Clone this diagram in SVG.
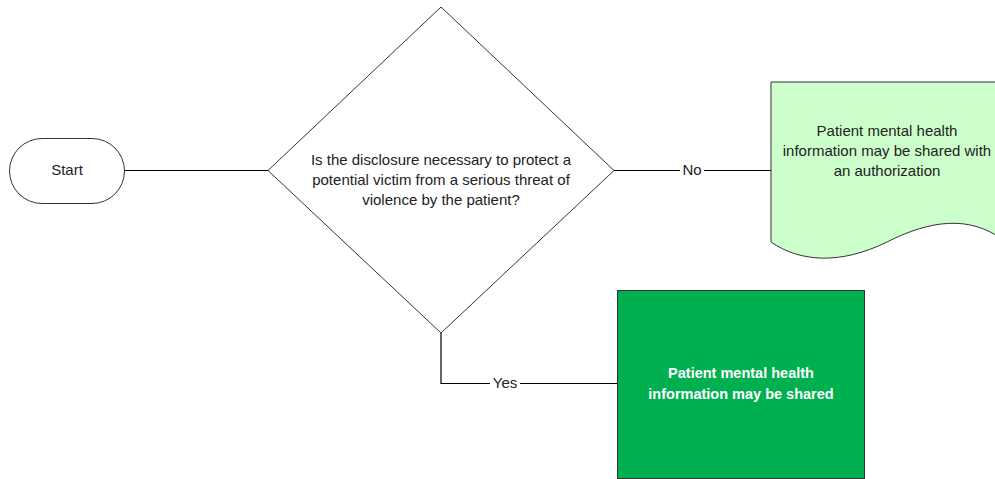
<svg xmlns="http://www.w3.org/2000/svg" width="995" height="479" viewBox="0 0 995 479">
<style>
text{font-family:"Liberation Sans",Arial,sans-serif;font-size:15px;fill:#222;text-anchor:middle;dominant-baseline:middle}
.ln{fill:none;stroke:#000;stroke-width:1.2}
.shape{stroke:#333;stroke-width:1}
.w{fill:#fff;font-weight:bold;font-size:14.5px}
</style>
<rect width="995" height="479" fill="#fff"/>
<g id="connectors">
<path class="ln" d="M125,170.5 H268"/>
<path class="ln" d="M614,170.5 H771"/>
<path class="ln" d="M441,333 V383.5 H617"/>
<rect x="680" y="162" width="24" height="18" fill="#fff"/>
<text x="692" y="171.5">No</text>
<rect x="490" y="375" width="30" height="18" fill="#fff"/>
<text x="505" y="384.5">Yes</text>
</g>
<g id="start">
<rect class="shape" x="9.5" y="138.5" width="115" height="65" rx="32.5" fill="#fff"/>
<text x="67" y="171">Start</text>
</g>
<g id="decision">
<polygon class="shape" points="441,7 614,170.5 441,333 268,170.5" fill="#fff"/>
<text x="441" y="161">Is the disclosure necessary to protect a</text>
<text x="441" y="181">potential victim from a serious threat of</text>
<text x="441" y="201">violence by the patient?</text>
</g>
<g id="authorization">
<path class="shape" d="M771,82 H1003 V240 C970,215 930,220 887,242 C840,265 800,262 771,242 Z" fill="#CCFFCC"/>
<text x="887" y="132">Patient mental health</text>
<text x="887" y="152">information may be shared with</text>
<text x="887" y="172">an authorization</text>
</g>
<g id="shared">
<rect class="shape" x="617.5" y="290.5" width="247" height="188" fill="#00B050"/>
<text class="w" x="741" y="374">Patient mental health</text>
<text class="w" x="741" y="395">information may be shared</text>
</g>
</svg>
